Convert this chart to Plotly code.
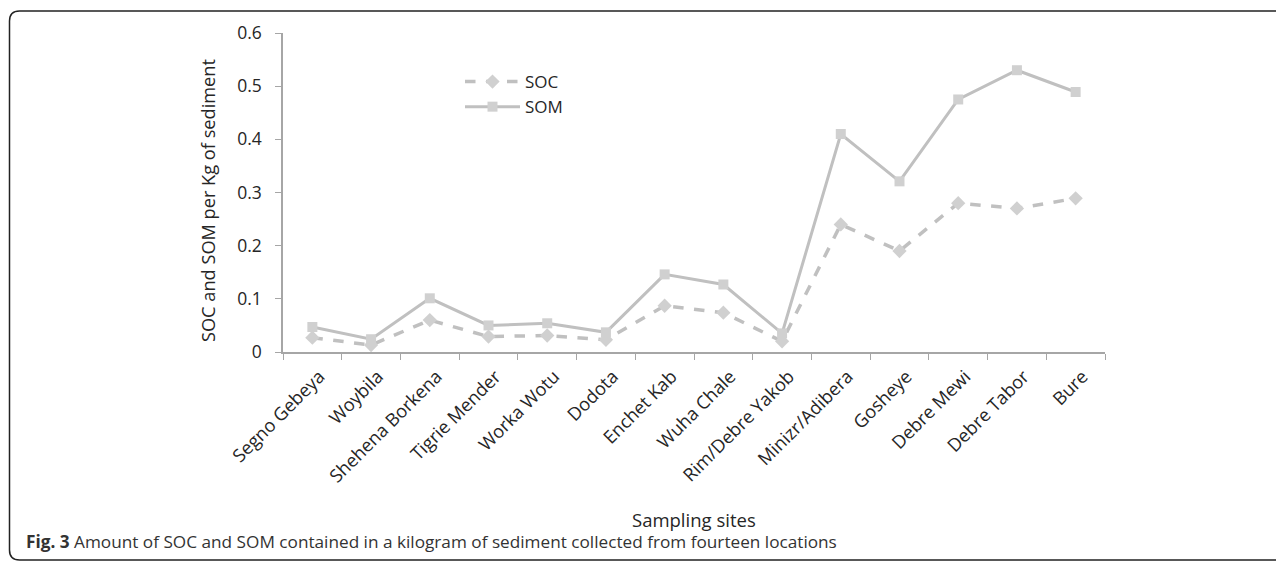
import plotly.graph_objects as go

sites = ["Segno Gebeya", "Woybila", "Shehena Borkena", "Tigrie Mender", "Worka Wotu",
         "Dodota", "Enchet Kab", "Wuha Chale", "Rim/Debre Yakob", "Minizr/Adibera",
         "Gosheye", "Debre Mewi", "Debre Tabor", "Bure"]
soc = [0.027, 0.013, 0.060, 0.029, 0.031, 0.023, 0.087, 0.074, 0.020, 0.240,
       0.190, 0.280, 0.270, 0.289]
som = [0.047, 0.024, 0.101, 0.050, 0.054, 0.037, 0.146, 0.127, 0.035, 0.410,
       0.321, 0.475, 0.530, 0.489]
y_ticks = [0, 0.1, 0.2, 0.3, 0.4, 0.5, 0.6]

OFF = 8  # default page body margin
W, H = 1284 - OFF, 561 - OFF
L, R, T, B = 283 - OFF, 1105 - OFF, 33 - OFF, 352 - OFF  # plot area (figure px)


def px(x):
    return (x - OFF - L) / (R - L)


def py(y):
    return (B - (y - OFF)) / (B - T)


fig = go.Figure()
fig.add_trace(go.Scatter(
    x=sites, y=soc, name="SOC", mode="lines+markers",
    line=dict(color="#C0C0C0", width=3.5, dash="dash"),
    marker=dict(symbol="diamond", size=11, color="#D0D0D0"),
))
fig.add_trace(go.Scatter(
    x=sites, y=som, name="SOM", mode="lines+markers",
    line=dict(color="#C0C0C0", width=3),
    marker=dict(symbol="square", size=10, color="#D0D0D0"),
))

# rounded frame (page pixel coords)
r = 10
x0, y0, x1, y1 = 9.5, 11, 1300, 560
path = (f"M {px(x1)},{py(y0)} L {px(x0 + r)},{py(y0)} "
        f"Q {px(x0)},{py(y0)} {px(x0)},{py(y0 + r)} "
        f"L {px(x0)},{py(y1 - r)} Q {px(x0)},{py(y1)} {px(x0 + r)},{py(y1)} "
        f"L {px(x1)},{py(y1)}")
fig.add_shape(type="path", path=path, xref="paper", yref="paper",
              line=dict(color="#222222", width=1.5))

fig.add_annotation(
    text="<b>Fig. 3</b> Amount of SOC and SOM contained in a kilogram of sediment collected from fourteen locations",
    xref="paper", yref="paper", x=px(24), y=py(541), xanchor="left", yanchor="middle",
    showarrow=False, font=dict(family="Open Sans", size=17.2, color="#333333"))

fig.add_annotation(
    text="Sampling sites", xref="paper", yref="paper", x=px(694), y=py(519),
    xanchor="center", yanchor="middle", showarrow=False,
    font=dict(family="Open Sans", size=18.5, color="#262626"))

fig.add_annotation(
    text="SOC and SOM per Kg of sediment", xref="paper", yref="paper",
    x=px(208), y=py(201), xanchor="center", yanchor="middle", textangle=-90,
    showarrow=False, font=dict(family="Open Sans", size=18.2, color="#262626"))

fig.update_layout(
    width=W, height=H,
    margin=dict(l=L, r=W - R, t=T, b=H - B, pad=0),
    paper_bgcolor="white", plot_bgcolor="white",
    font=dict(family="Open Sans", color="#262626"),
    showlegend=True,
    legend=dict(x=px(460), y=py(64), xanchor="left", yanchor="top",
                font=dict(size=17, color="#262626"), bgcolor="rgba(0,0,0,0)",
                itemwidth=55, tracegroupgap=0),
    xaxis=dict(
        type="category", tickangle=-45, tickson="boundaries",
        ticks="outside", ticklen=6, tickcolor="#A6A6A6",
        showline=True, linecolor="#A6A6A6", linewidth=1.5,
        showgrid=False, zeroline=False,
        tickfont=dict(size=18.2, color="#262626"),
        ticklabelshift=7, ticklabelstandoff=5,
        range=[-0.5, len(sites) - 0.5],
    ),
    yaxis=dict(
        range=[0, 0.6], tickvals=y_ticks, ticktext=[("%g" % v) for v in y_ticks],
        ticks="outside", ticklen=6, tickcolor="#A6A6A6",
        showline=True, linecolor="#A6A6A6", linewidth=1.5,
        showgrid=False, zeroline=False,
        tickfont=dict(size=17.5, color="#262626"),
        ticklabelstandoff=10,
    ),
)

fig.write_html("out.html")
